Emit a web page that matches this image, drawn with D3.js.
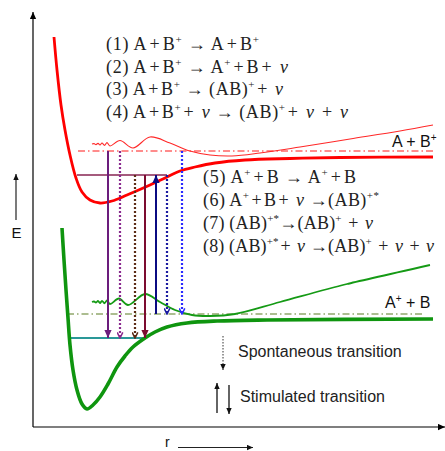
<!DOCTYPE html>
<html><head><meta charset="utf-8">
<script src="https://cdn.jsdelivr.net/npm/d3@7"></script>
<style>html,body{margin:0;padding:0;background:#fff}svg{display:block}</style>
</head><body><svg id="c" width="445" height="451"></svg>
<script>
// ---- data (r, E) in arbitrary units ----
const upperPES = [[1.05,19.5],[1.2,17.85],[1.4,16.1],[1.6,14.85],[1.85,13.6],[2.15,12.45],[2.45,11.75],[2.85,11.35],[3.35,11.2],[3.95,11.3],[4.7,11.6],[5.85,12.1],[6.6,12.45],[7.35,12.8],[8.1,13.0],[9.1,13.2],[10.6,13.35],[12.85,13.425],[15.35,13.475],[20.0,13.5]];
const upperWave = [[2.95,14.15],[3.05,14.17],[3.15,14.12],[3.25,14.18],[3.35,14.1],[3.45,14.2],[3.575,14.08],[3.7,14.22],[3.85,14.05],[4.35,14.325],[5.0,13.95],[5.85,14.5],[6.85,14.2],[7.85,13.8],[8.85,13.6],[9.95,13.55],[11.35,13.7],[13.35,14.0],[15.85,14.4],[18.35,14.8],[20.0,15.1]];
const lowerPES = [[1.45,9.95],[1.55,8.35],[1.65,6.85],[1.75,5.45],[1.85,4.1],[2.0,2.85],[2.2,1.85],[2.45,1.15],[2.7,0.9],[3.0,1.1],[3.35,1.5],[3.75,2.15],[4.2,3.0],[4.6,3.55],[5.0,4.0],[5.6,4.45],[6.1,4.75],[6.7,5.0],[7.7,5.2],[9.2,5.3],[11.7,5.35],[20.0,5.4]];
const lowerWave = [[2.95,6.25],[3.05,6.275],[3.15,6.225],[3.25,6.3],[3.35,6.2],[3.45,6.31],[3.575,6.185],[3.7,6.325],[3.85,6.15],[4.3,6.425],[4.75,6.1],[5.6,6.65],[6.35,6.25],[7.1,5.85],[7.95,5.6],[8.85,5.55],[10.1,5.65],[12.35,6.25],[15.7,7.15],[19.85,8.1]];

// asymptotes and vibrational levels: [E, rStart, rEnd]
const upperAsym = [13.8, 2.25, 20.0];
const lowerAsym = [5.65, 1.7, 19.5];
const upperLevel = [12.6, 2.2, 6.7];
const lowerLevel = [4.45, 1.85, 5.6];

// transitions
const transR    = [3.75, 4.35, 5.1, 5.6, 6.15, 6.7, 7.45];
const transFrom = [13.8, 13.8, 12.6, 12.6, 5.65, 12.6, 13.8];
const transTo   = [4.45, 4.45, 4.45, 4.45, 12.6, 5.65, 5.65];
const transKind = ["stim","spon","spon","stim","stim","spon","spon"];

const eqTop = ["(1) A+B{+} → A+B{+}", "(2) A+B{+} → A{+}+B+ ν", "(3) A+B{+} → (AB){+}+ ν", "(4) A+B{+}+ ν  → (AB){+}+ ν + ν"];
const eqBottom = ["(5) A{+}+B → A{+}+B", "(6) A{+}+B+ ν →(AB){+*}", "(7) (AB){+*}→(AB){+} + ν", "(8) (AB){+*}+ ν →(AB){+} + ν + ν"];
const legendLabels = ["Spontaneous transition", "Stimulated transition"];

// ---- styles / layout ----
const transColors = ["#6b1d7c","#8a2a8e","#5c2c16","#7c0c30","#0b0b82","#1b1ba0","#2a2aff"];
const eqTopWidths = [153, 182, 177, 242];
const eqBottomWidths = [153, 176, 170, 231];

const svg = d3.select("#c");
const x = d3.scaleLinear().domain([0,20.6]).range([33,445]);
const y = d3.scaleLinear().domain([0,20.75]).range([427,12]);
const defs = svg.append("defs");

function markerFilled(id, color, size){
  defs.append("marker").attr("id",id).attr("viewBox","0 0 10 10").attr("refX",10).attr("refY",5)
    .attr("markerUnits","userSpaceOnUse").attr("markerWidth",size).attr("markerHeight",size).attr("orient","auto")
    .append("path").attr("d","M0,0.5L10,5L0,9.5z").attr("fill",color);
}
function markerOpen(id, color, size){
  defs.append("marker").attr("id",id).attr("viewBox","0 0 10 10").attr("refX",9).attr("refY",5)
    .attr("markerUnits","userSpaceOnUse").attr("markerWidth",size).attr("markerHeight",size).attr("orient","auto")
    .append("path").attr("d","M1,1L9,5L1,9").attr("fill","none").attr("stroke",color).attr("stroke-width",2.2);
}
markerFilled("axHead","#000",7);
transColors.forEach((c,i)=>{
  if(transKind[i]==="stim") markerFilled("m"+i,c,8); else markerOpen("m"+i,c,7);
});
markerFilled("lgHead","#111",6);

// axes
svg.append("line").attr("x1",x(0)).attr("y1",y(0)).attr("x2",x(0)).attr("y2",y(20.75))
  .attr("stroke","#000").attr("stroke-width",1.2).attr("marker-end","url(#axHead)");
svg.append("line").attr("x1",x(0)).attr("y1",y(0)).attr("x2",x(20.6)).attr("y2",y(0))
  .attr("stroke","#000").attr("stroke-width",1.2).attr("marker-end","url(#axHead)");

// axis labels
svg.append("line").attr("x1",16).attr("y1",220).attr("x2",16).attr("y2",174)
  .attr("stroke","#222").attr("stroke-width",1.2).attr("marker-end","url(#lgHead)");
svg.append("text").attr("x",16.5).attr("y",238).attr("text-anchor","middle")
  .attr("font-family","Liberation Sans, Arial, sans-serif").attr("font-size",15).attr("fill","#111").text("E");
svg.append("text").attr("x",165).attr("y",447)
  .attr("font-family","Liberation Sans, Arial, sans-serif").attr("font-size",14).attr("fill","#111").text("r");
svg.append("line").attr("x1",178).attr("y1",447.5).attr("x2",253).attr("y2",447.5)
  .attr("stroke","#222").attr("stroke-width",1.2).attr("marker-end","url(#lgHead)");

// asymptotes
function hline(lv, color, w, dash){
  return svg.append("line").attr("x1",x(lv[1])).attr("x2",x(lv[2])).attr("y1",y(lv[0])).attr("y2",y(lv[0]))
    .attr("stroke",color).attr("stroke-width",w).attr("stroke-dasharray",dash);
}
hline(upperAsym,"#ff1a1a",1.1,"7,3,1.5,3");
hline(lowerAsym,"#5b7c22",1.1,"7,3,1.5,3");
hline(upperLevel,"#9c4a70",2.2,null).attr("opacity",0.9);
hline(lowerLevel,"#2a9898",2.2,null);

// curves
const line = d3.line().x(d=>x(d[0])).y(d=>y(d[1])).curve(d3.curveCatmullRom.alpha(0.5));
svg.append("path").attr("d",line(upperWave)).attr("fill","none").attr("stroke","#ff2828").attr("stroke-width",1.1);
svg.append("path").attr("d",line(lowerWave)).attr("fill","none").attr("stroke","#159a15").attr("stroke-width",1.8);
svg.append("path").attr("d",line(upperPES)).attr("fill","none").attr("stroke","#ff0000").attr("stroke-width",2.8);
svg.append("path").attr("d",line(lowerPES)).attr("fill","none").attr("stroke","#0f950f").attr("stroke-width",3.6);

// transitions
transR.forEach((r,i)=>{
  svg.append("line").attr("x1",x(r)).attr("x2",x(r)).attr("y1",y(transFrom[i])).attr("y2",y(transTo[i]))
    .attr("stroke",transColors[i]).attr("stroke-width",transKind[i]==="stim"?2:2.2)
    .attr("stroke-dasharray",transKind[i]==="stim"?null:"2,2")
    .attr("marker-end","url(#m"+i+")");
});

// equations
function eqText(str, x0, y0, width){
  const t = svg.append("text").attr("x",x0).attr("y",y0)
    .attr("font-family","Liberation Serif, Times New Roman, serif").attr("font-size",18).attr("fill","#222");
  const parts = str.split(/(\{[^}]*\}|ν)/).filter(s=>s.length);
  let raised = false;
  parts.forEach(p=>{
    if(p[0]==="{"){
      t.append("tspan").attr("dy",-7).attr("font-size",11).text(p.slice(1,-1));
      raised = true;
    } else {
      const s = t.append("tspan").text(p==="ν" ? p : p.replace(/\+/g,"\u200A+\u200A"));
      if(raised){ s.attr("dy",7); raised=false; }
      if(p==="ν") s.attr("font-style","italic");
    }
  });
  t.attr("textLength",width).attr("lengthAdjust","spacing");
}
eqTop.forEach((s,i)=>eqText(s,106,50+i*22.7,eqTopWidths[i]));
eqBottom.forEach((s,i)=>eqText(s,203,183+i*23,eqBottomWidths[i]));

// state labels
function stateLabel(base, sup, after, x0, y0){
  const t = svg.append("text").attr("x",x0).attr("y",y0)
    .attr("font-family","Liberation Sans, Arial, sans-serif").attr("font-size",16).attr("fill","#111");
  t.append("tspan").text(base);
  t.append("tspan").attr("dy",-6).attr("font-size",10).text(sup);
  t.append("tspan").attr("dy",6).text(after);
}
stateLabel("A + B","+","",392,147);
stateLabel("A","+"," + B",385,308);

// legend
svg.append("line").attr("x1",223).attr("y1",336).attr("x2",223).attr("y2",370)
  .attr("stroke","#333").attr("stroke-width",1).attr("stroke-dasharray","1.5,1.5").attr("marker-end","url(#lgHead)");
svg.append("line").attr("x1",217).attr("y1",413).attr("x2",217).attr("y2",383)
  .attr("stroke","#111").attr("stroke-width",1.3).attr("marker-end","url(#lgHead)");
svg.append("line").attr("x1",229).attr("y1",385).attr("x2",229).attr("y2",414)
  .attr("stroke","#111").attr("stroke-width",1.3).attr("marker-end","url(#lgHead)");
svg.append("text").attr("x",238).attr("y",357).attr("font-family","Liberation Sans, Arial, sans-serif")
  .attr("font-size",16).attr("fill","#222").text(legendLabels[0]);
svg.append("text").attr("x",240).attr("y",402).attr("font-family","Liberation Sans, Arial, sans-serif")
  .attr("font-size",16).attr("fill","#222").text(legendLabels[1]);
</script>
</body></html>
